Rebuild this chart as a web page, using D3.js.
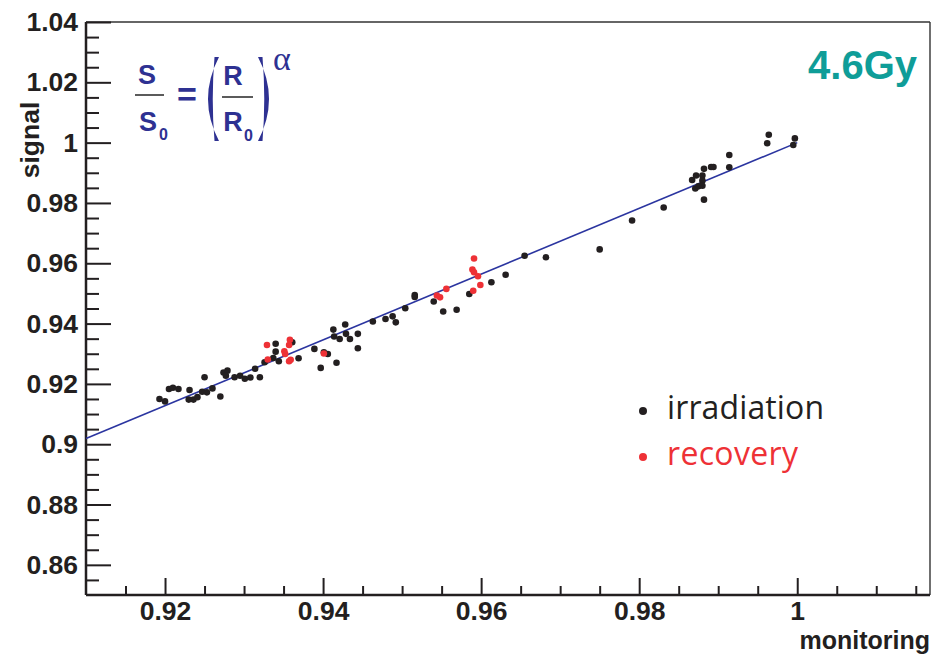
<!DOCTYPE html>
<html>
<head>
<meta charset="utf-8">
<script src="https://cdn.jsdelivr.net/npm/d3@7"></script>
<style>
  html, body { margin: 0; padding: 0; background: #fff; }
  svg { display: block; }
</style>
</head>
<body>
<svg id="chart" width="938" height="655"></svg>
<script>
// ---- data ----
const irrX = [0.9193,0.9200,0.9205,0.9210,0.9217,0.9231,0.9230,0.9236,0.9241,0.9247,
              0.9253,0.9250,0.9260,0.9270,0.9274,0.9279,0.9277,0.9288,0.9295,0.9301,
              0.9308,0.9314,0.9320,0.9326,0.9340,0.9340,0.9337,0.9344,0.9361,0.9369,
              0.9389,0.9397,0.9401,0.9406,0.9413,0.9417,0.9414,0.9421,0.9428,0.9429,
              0.9434,0.9444,0.9444,0.9463,0.9479,0.9488,0.9492,0.9504,0.9516,0.9516,
              0.9540,0.9552,0.9569,0.9585,0.9613,0.9631,0.9655,0.9682,0.9750,0.9791,
              0.9831,0.9867,0.9872,0.9871,0.9875,0.9880,0.9880,0.9880,0.9882,0.9882,
              0.9891,0.9894,0.9914,0.9914,0.9962,0.9964,0.9995,0.9997];
const irrY = [0.9150,0.9142,0.9183,0.9187,0.9183,0.9180,0.9148,0.9148,0.9156,0.9174,
              0.9172,0.9222,0.9185,0.9158,0.9238,0.9244,0.9227,0.9222,0.9227,0.9217,
              0.9221,0.9250,0.9222,0.9272,0.9333,0.9307,0.9286,0.9275,0.9338,0.9285,
              0.9316,0.9253,0.9305,0.9299,0.9380,0.9270,0.9357,0.9349,0.9397,0.9366,
              0.9349,0.9366,0.9318,0.9407,0.9415,0.9424,0.9404,0.9451,0.9495,0.9488,
              0.9473,0.9440,0.9446,0.9498,0.9537,0.9562,0.9625,0.9620,0.9646,0.9742,
              0.9785,0.9876,0.9891,0.9848,0.9855,0.9891,0.9874,0.9857,0.9913,0.9811,
              0.9919,0.9919,0.9959,0.9918,0.9998,1.0026,0.9992,1.0014];
const recX = [0.9329,0.9330,0.9351,0.9352,0.9358,0.9357,0.9357,0.9359,0.9401,
              0.9544,0.9548,0.9556,0.9591,0.9589,0.9591,0.9596,0.9599,0.9590];
const recY = [0.9329,0.9281,0.9308,0.9299,0.9346,0.9329,0.9275,0.9280,0.9301,
              0.9493,0.9487,0.9515,0.9616,0.9579,0.9570,0.9557,0.9528,0.9509];
const fitX = [0.91, 1.0];
const fitY = [0.9019, 1.0];
const xTicks = [0.92, 0.94, 0.96, 0.98, 1.0];
const xTickLabels = ["0.92", "0.94", "0.96", "0.98", "1"];
const yTicks = [0.86, 0.88, 0.9, 0.92, 0.94, 0.96, 0.98, 1.0, 1.02, 1.04];
const yTickLabels = ["0.86", "0.88", "0.9", "0.92", "0.94", "0.96", "0.98", "1", "1.02", "1.04"];
const seriesNames = ["irradiation", "recovery"];

// ---- layout ----
const L = 86, R = 930, T = 22, B = 595;
const svg = d3.select("#chart");
const x = d3.scaleLinear().domain([0.91, 1.0168]).range([L, R]);
const y = d3.scaleLinear().domain([0.85, 1.04]).range([B, T]);

const ink = "#231f20";
const blue = "#2e3192";
const red = "#ee3136";
const axisFont = "'Liberation Sans', Arial, Helvetica, sans-serif";

// frame (top and right)
svg.append("line").attr("x1", L).attr("x2", R).attr("y1", T).attr("y2", T)
  .attr("stroke", "#333").attr("stroke-width", 1.4);
svg.append("line").attr("x1", R).attr("x2", R).attr("y1", T).attr("y2", B)
  .attr("stroke", "#333").attr("stroke-width", 1.4);

// minor ticks
const xMinor = d3.range(0.915, 1.0166, 0.005).filter(v => !xTicks.some(t => Math.abs(t - v) < 1e-6));
const yMinor = d3.range(0.855, 1.0401, 0.005).filter(v => !yTicks.some(t => Math.abs(t - v) < 1e-6));

const gxMinor = svg.append("g").attr("transform", `translate(0,${B})`)
  .call(d3.axisBottom(x).tickValues(xMinor).tickSize(-9).tickFormat(""));
const gyMinor = svg.append("g").attr("transform", `translate(${L},0)`)
  .call(d3.axisLeft(y).tickValues(yMinor).tickSize(-13).tickFormat(""));

const gx = svg.append("g").attr("transform", `translate(0,${B})`)
  .call(d3.axisBottom(x).tickValues(xTicks).tickSize(-17).tickPadding(6)
    .tickFormat((d, i) => xTickLabels[i]));
const gy = svg.append("g").attr("transform", `translate(${L},0)`)
  .call(d3.axisLeft(y).tickValues(yTicks).tickSize(-25).tickPadding(8)
    .tickFormat((d, i) => yTickLabels[i]));

[gxMinor, gyMinor, gx, gy].forEach(g => {
  g.selectAll(".tick line").attr("stroke", ink).attr("stroke-width", 2);
  g.select(".domain").attr("stroke", ink).attr("stroke-width", 2.5);
  g.selectAll("text").attr("fill", ink).attr("font-family", axisFont)
    .attr("font-weight", "bold").attr("font-size", 26.5);
});
gxMinor.select(".domain").remove();
gyMinor.select(".domain").remove();
gx.select(".domain").attr("d", `M${L},0H${R}`);
gy.select(".domain").attr("d", `M0,${B}V${T}`);

// axis titles
svg.append("text").attr("x", R).attr("y", 649).attr("text-anchor", "end")
  .attr("font-family", axisFont).attr("font-weight", "bold").attr("font-size", 25)
  .attr("fill", ink).text("monitoring");
svg.append("text").attr("transform", "translate(39,140) rotate(-90)")
  .attr("text-anchor", "middle")
  .attr("font-family", axisFont).attr("font-weight", "bold").attr("font-size", 26.5)
  .attr("fill", ink).text("signal");

// fit line
svg.append("path")
  .datum(fitX.map((v, i) => [v, fitY[i]]))
  .attr("d", d3.line().x(d => x(d[0])).y(d => y(d[1])))
  .attr("fill", "none").attr("stroke", "#2b35a0").attr("stroke-width", 1.6);

// points
svg.append("g").selectAll("circle").data(irrX.map((v, i) => [v, irrY[i]])).join("circle")
  .attr("cx", d => x(d[0])).attr("cy", d => y(d[1])).attr("r", 3.3).attr("fill", ink);
svg.append("g").selectAll("circle").data(recX.map((v, i) => [v, recY[i]])).join("circle")
  .attr("cx", d => x(d[0])).attr("cy", d => y(d[1])).attr("r", 3.3).attr("fill", red);

// legend
const legFont = "'Open Sans', 'Noto Sans', sans-serif";
const leg = [{name: seriesNames[0], color: ink, cy: 411}, {name: seriesNames[1], color: red, cy: 457}];
leg.forEach(l => {
  svg.append("circle").attr("cx", 643).attr("cy", l.cy).attr("r", 4).attr("fill", l.color);
  svg.append("text").attr("x", 667).attr("y", l.cy + 8).attr("font-family", legFont)
    .attr("font-size", 32).attr("textLength", l.name === "irradiation" ? 157 : 131)
    .attr("fill", l.color).text(l.name);
});

// dose label
svg.append("text").attr("x", 917).attr("y", 79).attr("text-anchor", "end")
  .attr("font-family", axisFont).attr("font-weight", "bold").attr("font-size", 40)
  .attr("fill", "#0f9d98").text("4.6Gy");

// formula S/S0 = (R/R0)^alpha
const fg = svg.append("g").attr("fill", blue).attr("font-family", axisFont).attr("font-weight", "bold");
fg.append("text").attr("x", 147).attr("y", 84).attr("text-anchor", "middle").attr("font-size", 27).text("S");
fg.append("line").attr("x1", 135).attr("x2", 164).attr("y1", 95).attr("y2", 95).attr("stroke", "#333").attr("stroke-width", 1.6);
fg.append("text").attr("x", 148).attr("y", 131).attr("text-anchor", "middle").attr("font-size", 27).text("S");
fg.append("text").attr("x", 159).attr("y", 140).attr("font-size", 16).text("0");
fg.append("text").attr("x", 187).attr("y", 106).attr("text-anchor", "middle").attr("font-size", 34).text("=");
fg.append("path").attr("d", "M219,57 Q197,99 219,141 L214.5,141 Q211,99 214.5,57 Z");
fg.append("text").attr("x", 233).attr("y", 85).attr("text-anchor", "middle").attr("font-size", 27).text("R");
fg.append("line").attr("x1", 222).attr("x2", 253).attr("y1", 97).attr("y2", 97).attr("stroke", "#333").attr("stroke-width", 1.6);
fg.append("text").attr("x", 233).attr("y", 131).attr("text-anchor", "middle").attr("font-size", 27).text("R");
fg.append("text").attr("x", 244).attr("y", 141).attr("font-size", 16).text("0");
fg.append("path").attr("d", "M258,57 Q280,99 258,141 L262.5,141 Q266,99 262.5,57 Z");
fg.append("text").attr("x", 273).attr("y", 70).attr("font-family", "'Liberation Serif', 'DejaVu Serif', serif")
  .attr("font-weight", "normal").attr("font-size", 34).text("α");
</script>
</body>
</html>
